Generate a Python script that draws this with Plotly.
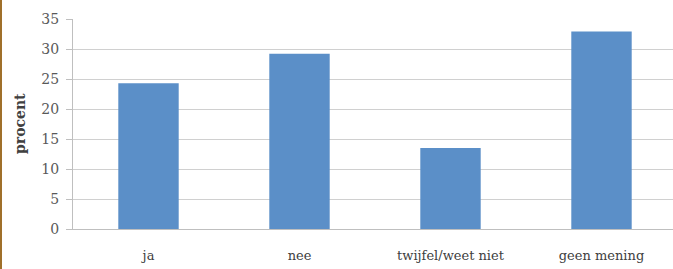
import plotly.graph_objects as go

categories = ["ja", "nee", "twijfel/weet niet", "geen mening"]
values = [24.3, 29.2, 13.5, 32.9]
y_ticks = [0, 5, 10, 15, 20, 25, 30, 35]

W, H = 673, 269
L, R, T, B = 73, 0, 19, 40
pw, ph = W - L - R, H - T - B
cat_px = 151.0

fig = go.Figure(go.Bar(
    x=categories, y=values,
    marker=dict(color="#5B8FC8", line=dict(color="#5B8FC8", width=0)),
    width=0.4,
))

serif = "DejaVu Serif, serif"
fig.update_layout(
    width=W, height=H,
    margin=dict(l=L, r=R, t=T, b=B),
    paper_bgcolor="white", plot_bgcolor="white",
    showlegend=False,
    font=dict(family=serif, size=13, color="#595959"),
    xaxis=dict(
        range=[-0.5, -0.5 + pw / cat_px],
        showgrid=False, showline=True, linecolor="#BFBFBF", linewidth=1,
        ticks="", ticklabelstandoff=14,
        tickfont=dict(family=serif, size=13, color="#404040"),
        zeroline=False,
    ),
    yaxis=dict(
        range=[0, 35], tickvals=y_ticks,
        showgrid=True, gridcolor="#D0D0D0", gridwidth=1,
        showline=True, linecolor="#BFBFBF", linewidth=1,
        ticks="outside", ticklen=6, tickcolor="#BFBFBF",
        ticklabelstandoff=4,
        tickfont=dict(family=serif, size=14, color="#595959"),
        zeroline=False,
    ),
    annotations=[dict(
        text="<b>procent</b>", textangle=-90,
        xref="paper", yref="paper",
        x=(20 - L) / pw, y=(H - B - 124) / ph, showarrow=False,
        font=dict(family=serif, size=14, color="#404040"),
        xanchor="center", yanchor="middle",
    )],
    shapes=[dict(
        type="line", xref="paper", yref="paper",
        x0=(1 - L) / pw, x1=(1 - L) / pw,
        y0=(H - B + 2) / ph, y1=-(B + 2) / ph,
        line=dict(color="#A0702A", width=2),
    )],
)

fig.write_html(
    "out.html",
    config={"displayModeBar": False},
    post_script="document.body.style.margin='0';document.body.style.overflow='hidden';",
)
